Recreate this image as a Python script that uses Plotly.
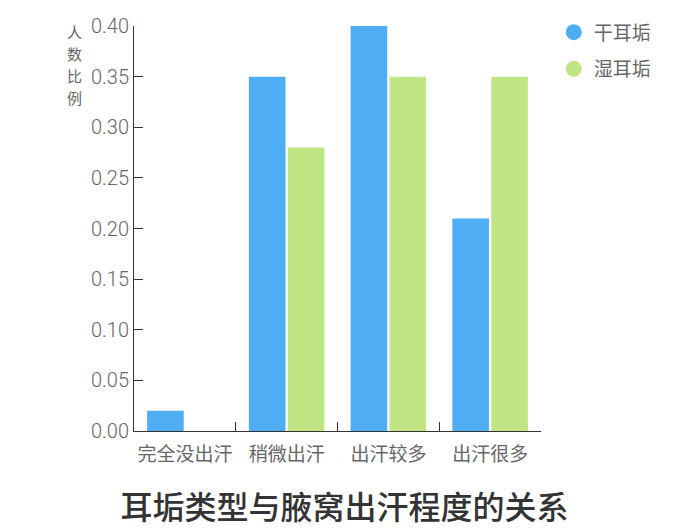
import plotly.graph_objects as go

categories = ["完全没出汗", "稍微出汗", "出汗较多", "出汗很多"]
dry_values = [0.02, 0.35, 0.40, 0.21]
wet_values = [0.0, 0.28, 0.35, 0.35]
series_names = ["干耳垢", "湿耳垢"]
series_colors = ["#4faef3", "#c0e583"]
y_ticks = [0, 0.05, 0.10, 0.15, 0.20, 0.25, 0.30, 0.35, 0.40]
y_title_chars = ["人", "数", "比", "例"]

NUM = "Roboto, Liberation Sans, Noto Sans CJK SC"
CJK = "Noto Sans CJK SC"
W, H = 690, 529
L, R, T, B = 126, 157, 18, 106
plot_h = H - T - B
plot_w = W - L - R

fig = go.Figure()
for vals, name, col in zip([dry_values, wet_values], series_names, series_colors):
    fig.add_trace(go.Bar(x=categories, y=vals, name=name, showlegend=False,
                         marker=dict(color=col, line=dict(width=0))))
# legend proxies with circle symbols
for i, (name, col) in enumerate(zip(series_names, series_colors)):
    fig.add_trace(go.Scatter(x=[None], y=[None], mode="markers", name=name,
                             legendgroup=f"g{i}",
                             marker=dict(color=col, size=20, symbol="circle")))

fig.update_layout(
    width=W, height=H,
    margin=dict(l=L, r=R, t=T, b=B, autoexpand=False),
    plot_bgcolor="white", paper_bgcolor="white",
    barmode="group", bargap=0.235, bargroupgap=0.06,
    font=dict(family=CJK, size=16, color="#666666"),
    xaxis=dict(showline=True, linecolor="#333333", linewidth=1, automargin=False,
               ticks="inside", tickson="boundaries", ticklen=9, tickcolor="#333333",
               tickangle=0, ticklabelstandoff=6,
               tickfont=dict(size=19, color="#666666", family=CJK), showgrid=False),
    yaxis=dict(range=[0, 0.4], tickvals=y_ticks, tickformat=".2f", automargin=False,
               showline=True, linecolor="#333333", linewidth=1,
               ticks="inside", ticklen=9, tickcolor="#333333",
               tickfont=dict(size=20, color="#666666", family=NUM, weight=300),
               showgrid=False, zeroline=False),
    legend=dict(xref="container", yref="container", x=0.791, y=0.99,
                xanchor="left", yanchor="top",
                font=dict(size=19, color="#666666", family=CJK),
                tracegroupgap=9, itemsizing="trace"),
    title=dict(text="耳垢类型与腋窝出汗程度的关系", x=336.5 / W, xref="container",
               yref="container", y=1 - 500 / H, yanchor="middle", xanchor="center",
               font=dict(size=32, color="#333333", family=CJK, weight=500)),
    showlegend=True,
)
for ch, yp in zip(y_title_chars, [23.75, 45.75, 67.75, 89.75]):
    fig.add_annotation(text=ch, xref="paper", yref="paper",
                       x=(66 - L) / plot_w, y=(H - B - yp) / plot_h,
                       xanchor="center", yanchor="middle", showarrow=False,
                       font=dict(size=15, color="#666666", family=CJK))
fig.write_html("out.html")
